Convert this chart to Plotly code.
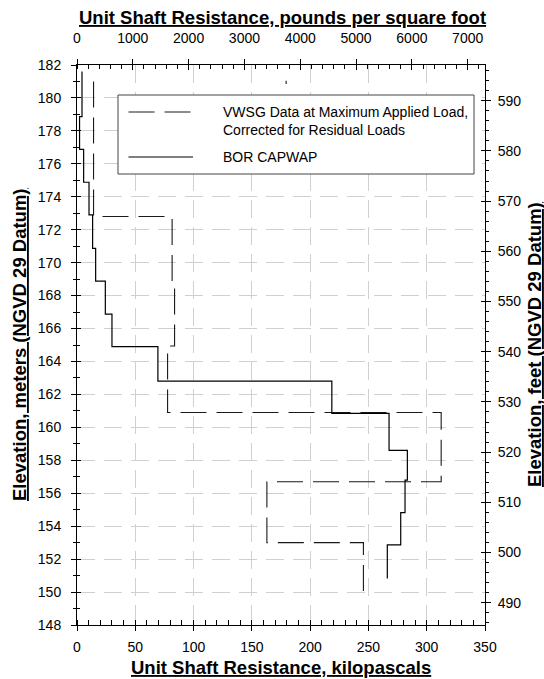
import plotly.graph_objects as go

# BOR CAPWAP unit shaft resistance: segment top elevations (m) and values (kPa)
capwap_top_m = [181.6, 178.86, 176.88, 174.88, 172.9, 170.87, 168.88, 166.88,
                164.9, 162.81, 160.85, 158.6, 156.8, 154.82, 152.86]
capwap_bottom_m = 150.83
capwap_kpa = [4.3, 2.2, 5.7, 10.3, 13.4, 16.0, 24.3, 30.0,
              69.4, 218.6, 267.7, 283.4, 281.4, 277.7, 266.2]

# VWSG data at maximum applied load, corrected for residual loads
vwsg_top_m = [181.0, 172.8, 168.85, 164.94, 160.9, 156.7, 153.0]
vwsg_bottom_m = 150.0
vwsg_kpa = [14.2, 81.6, 83.7, 77.7, 312.4, 162.9, 245.7]
vwsg_extra_kpa = [179.4, 179.4]
vwsg_extra_m = [181.05, 180.85]

legend_labels = ["VWSG Data at Maximum Applied Load,<br>Corrected for Residual Loads",
                 "BOR CAPWAP"]
axis_titles = {
    "bottom": "Unit Shaft Resistance, kilopascals",
    "top": "Unit Shaft Resistance, pounds per square foot",
    "left": "Elevation, meters (NGVD 29 Datum)",
    "right": "Elevation, feet (NGVD 29 Datum)",
}

KPA_RANGE = [0, 350]
M_RANGE = [148, 182]
PSF_PER_KPA = 20.8854
FT_PER_M = 3.28084

FONT = "Liberation Sans, Arial, sans-serif"

W, H = 544, 679
ML, MR, MT, MB = 77, 59, 65, 54
PW, PH = W - ML - MR, H - MT - MB


def px_to_paper(px=None, py=None):
    """Convert page pixel positions to paper coordinates."""
    out = []
    if px is not None:
        out.append((px - ML) / PW)
    if py is not None:
        out.append((H - MB - py) / PH)
    return out[0] if len(out) == 1 else tuple(out)


def step_path(tops, bottom, vals):
    xs, ys = [], []
    bounds = list(tops[1:]) + [bottom]
    for top, bot, v in zip(tops, bounds, vals):
        xs += [v, v]
        ys += [top, bot]
    return xs, ys


cx, cy = step_path(capwap_top_m, capwap_bottom_m, capwap_kpa)
vx, vy = step_path(vwsg_top_m, vwsg_bottom_m, vwsg_kpa)
vx += [None] + vwsg_extra_kpa
vy += [None] + vwsg_extra_m

fig = go.Figure()
fig.add_trace(go.Scatter(x=vx, y=vy, mode="lines", name="VWSG",
                         line=dict(color="#1a1a1a", width=1.1, dash="26px,10px"),
                         showlegend=False, hoverinfo="skip"))
fig.add_trace(go.Scatter(x=cx, y=cy, mode="lines", name="BOR CAPWAP",
                         line=dict(color="black", width=1.2),
                         showlegend=False, hoverinfo="skip"))
# empty traces so the secondary / overlay axes are drawn
for xa, ya in [("x2", "y2"), ("x3", "y3"), ("x4", "y4")]:
    fig.add_trace(go.Scatter(x=[None], y=[None], xaxis=xa, yaxis=ya,
                             showlegend=False, hoverinfo="skip"))

tickfont = dict(family=FONT, size=14, color="black")
titlefont = dict(family=FONT, size=18.5, color="black")
grid = dict(showgrid=True, gridcolor="#d0d0d0", gridwidth=1, griddash="18px,9px")
base = dict(showline=True, linecolor="black", linewidth=1, zeroline=False,
            tickcolor="black", tickwidth=1, tickfont=tickfont)

psf_range = [KPA_RANGE[0] * PSF_PER_KPA, KPA_RANGE[1] * PSF_PER_KPA]
ft_range = [M_RANGE[0] * FT_PER_M, M_RANGE[1] * FT_PER_M]

fig.update_layout(
    width=W, height=H,
    margin=dict(l=ML, r=MR, t=MT, b=MB),
    paper_bgcolor="white", plot_bgcolor="white",
    font=dict(family=FONT, color="black"),
    showlegend=False,
    xaxis=dict(**base, **grid, range=KPA_RANGE, tick0=0, dtick=50,
               ticks="outside", ticklen=5, ticklabelstandoff=4,
               minor=dict(dtick=10, ticks="inside", ticklen=5, tickcolor="black",
                          showgrid=False)),
    yaxis=dict(**base, **grid, range=M_RANGE, tick0=148, dtick=2,
               ticks="outside", ticklen=5, ticklabelstandoff=7,
               minor=dict(dtick=1, ticks="outside", ticklen=3, tickcolor="black",
                          showgrid=False)),
    xaxis2=dict(**base, overlaying="x", side="top", anchor="y", range=psf_range,
                tick0=0, dtick=1000, ticks="outside", ticklen=5, showgrid=False,
                ticklabelstandoff=10,
                minor=dict(dtick=200, ticks="inside", ticklen=4, tickcolor="black",
                           showgrid=False)),
    yaxis2=dict(**base, overlaying="y", side="right", anchor="x", range=ft_range,
                tick0=490, dtick=10, ticks="outside", ticklen=5, showgrid=False,
                ticklabelstandoff=4,
                minor=dict(dtick=2, ticks="outside", ticklen=3, tickcolor="black",
                           showgrid=False)),
    # inner halves of the crossing tick marks
    xaxis3=dict(overlaying="x", side="bottom", anchor="y", range=KPA_RANGE,
                tick0=0, dtick=50, ticks="inside", ticklen=5, tickcolor="black",
                showticklabels=False, showgrid=False, showline=False, zeroline=False),
    yaxis3=dict(overlaying="y", side="left", anchor="x", range=M_RANGE,
                tick0=148, dtick=2, ticks="inside", ticklen=4, tickcolor="black",
                minor=dict(dtick=1, ticks="inside", ticklen=3, tickcolor="black"),
                showticklabels=False, showgrid=False, showline=False, zeroline=False),
    xaxis4=dict(overlaying="x", side="top", anchor="y", range=psf_range,
                tick0=0, dtick=1000, ticks="inside", ticklen=5, tickcolor="black",
                showticklabels=False, showgrid=False, showline=False, zeroline=False),
    yaxis4=dict(overlaying="y", side="right", anchor="x", range=ft_range,
                tick0=490, dtick=10, ticks="inside", ticklen=4, tickcolor="black",
                showticklabels=False, showgrid=False, showline=False, zeroline=False),
)

# axis titles (bold, underlined): key, x px, y px, angle, vertical anchor
title_specs = [
    ("top", 282, 30, 0, "bottom"),
    ("bottom", 281, 655, 0, "top"),
    ("left", 19, 345, -90, "middle"),
    ("right", 534, 345, -90, "middle"),
]
for key, px, py, ang, yanc in title_specs:
    ax_x, ax_y = px_to_paper(px, py)
    fig.add_annotation(xref="paper", yref="paper", x=ax_x, y=ax_y,
                       text="<b><u>" + axis_titles[key] + "</u></b>",
                       showarrow=False, xanchor="center", yanchor=yanc,
                       textangle=ang, font=titlefont)

# legend box
bx0, by1 = px_to_paper(118, 95)
bx1, by0 = px_to_paper(474, 174)
fig.add_shape(type="rect", xref="paper", yref="paper",
              x0=bx0, x1=bx1, y0=by0, y1=by1,
              line=dict(color="#444444", width=1), fillcolor="white", layer="above")
sx0 = px_to_paper(px=128.5)
sx1 = px_to_paper(px=193)
row1_y = px_to_paper(py=112)
row2_y = px_to_paper(py=157)
fig.add_shape(type="line", xref="paper", yref="paper",
              x0=sx0, x1=sx1, y0=row1_y, y1=row1_y,
              line=dict(color="#1a1a1a", width=1.1, dash="26px,10px"), layer="above")
fig.add_shape(type="line", xref="paper", yref="paper",
              x0=sx0, x1=sx1, y0=row2_y, y1=row2_y,
              line=dict(color="black", width=1.2), layer="above")
text_x = px_to_paper(px=221)
fig.add_annotation(xref="paper", yref="paper", x=text_x, y=px_to_paper(py=121),
                   text=legend_labels[0], showarrow=False, xanchor="left",
                   yanchor="middle", align="left",
                   font=dict(family=FONT, size=14, color="black"))
fig.add_annotation(xref="paper", yref="paper", x=text_x, y=row2_y,
                   text=legend_labels[1], showarrow=False, xanchor="left",
                   yanchor="middle", align="left",
                   font=dict(family=FONT, size=14, color="black"))

fig.write_html("out.html")
